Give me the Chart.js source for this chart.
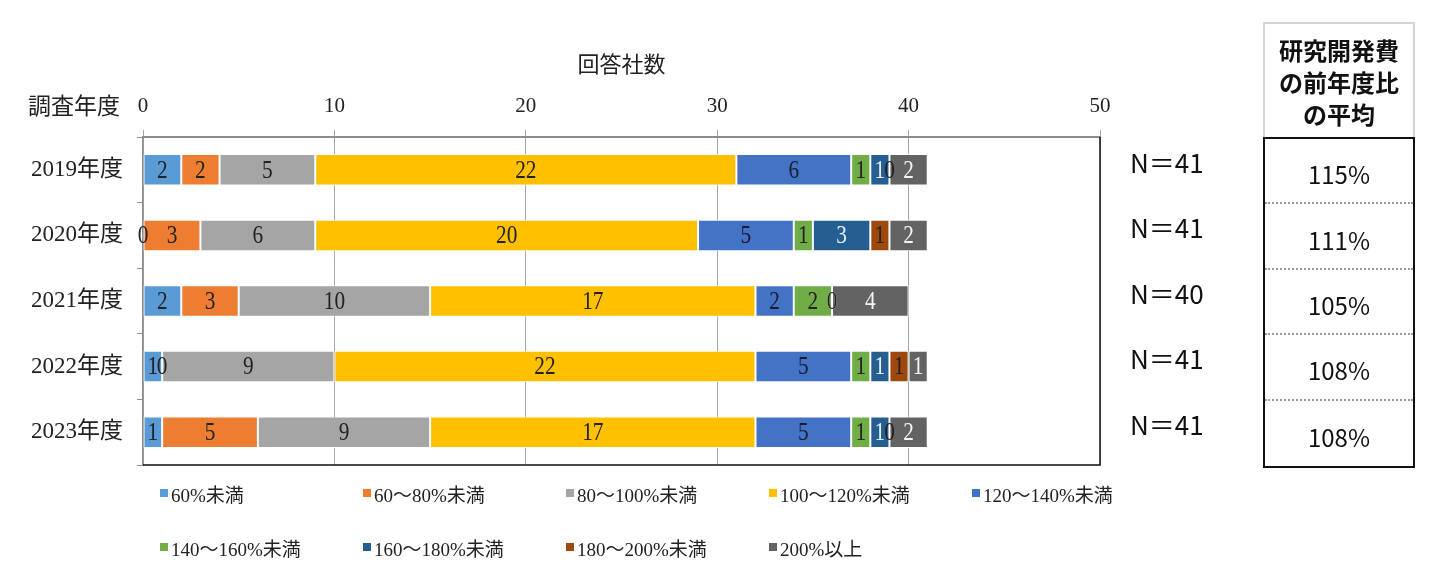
<!DOCTYPE html>
<html lang="ja">
<head>
<meta charset="utf-8">
<script src="https://cdn.jsdelivr.net/npm/chart.js@4.4.1/dist/chart.umd.min.js"></script>
<style>
  body { margin: 0; background: #fff; }
  #wrap { position: relative; width: 1449px; height: 577px; overflow: hidden; }
  #chart { position: absolute; left: 0; top: 0; }
  .serif { font-family: "Liberation Serif", "Noto Sans CJK JP", serif; color: #222; }
  #yTitle { position: absolute; left: 28px; top: 92px; font-size: 23px; line-height: 30px; }
  #legend { position: absolute; left: 160px; top: 478px; display: grid;
            grid-template-columns: repeat(5, 203px); grid-auto-rows: 54px; }
  #legend .item { display: flex; align-items: center; height: 30px; font-size: 19px; white-space: nowrap; }
  #legend .box { width: 8px; height: 8px; margin-right: 3px; flex: none; }
  #avgTable { position: absolute; left: 1263px; top: 22px; width: 152px;
              font-family: "Liberation Sans Narrow", "Noto Sans CJK JP", sans-serif; color: #111; }
  #avgHead { height: 115px; border: 2px solid #d4d4d4; border-bottom: none; box-sizing: border-box;
             display: flex; align-items: center; justify-content: center; text-align: center;
             font-family: "Noto Sans CJK JP", sans-serif; font-weight: bold; font-size: 24px; line-height: 32px; padding-top: 2px; }
  #avgBody { border: 2px solid #111; box-sizing: border-box; height: 331px; }
  #avgBody div { height: 65.4px; box-sizing: border-box; border-bottom: 2px dotted #999;
                 display: flex; align-items: center; justify-content: center; font-size: 24px; padding-top: 6px; }
  #avgBody div:last-child { border-bottom: none; }
</style>
</head>
<body>
<div id="wrap">
  <canvas id="chart" width="1449" height="577"></canvas>
  <div id="yTitle" class="serif">調査年度</div>
  <div id="legend" class="serif"></div>
  <div id="avgTable">
    <div id="avgHead">研究開発費<br>の前年度比<br>の平均</div>
    <div id="avgBody"></div>
  </div>
</div>
<script>
// 調査年度
const years = ['2019年度', '2020年度', '2021年度', '2022年度', '2023年度'];

// 回答社数（区分ごと）
const lt60 = [2, 0, 2, 1, 1];
const r60to80 = [2, 3, 3, 0, 5];
const r80to100 = [5, 6, 10, 9, 9];
const r100to120 = [22, 20, 17, 22, 17];
const r120to140 = [6, 5, 2, 5, 5];
const r140to160 = [1, 1, 2, 1, 1];
const r160to180 = [1, 3, 0, 1, 1];
const r180to200 = [0, 1, 0, 1, 0];
const ge200 = [2, 2, 4, 1, 2];

const nCounts = [41, 41, 40, 41, 41];
const avgRatio = ['115%', '111%', '105%', '108%', '108%'];
const xTicks = [0, 10, 20, 30, 40, 50];

const series = [
    { label: '60%未満', data: lt60, color: '#5B9BD5', text: '#222' },
    { label: '60～80%未満', data: r60to80, color: '#ED7D31', text: '#222' },
    { label: '80～100%未満', data: r80to100, color: '#A5A5A5', text: '#222' },
    { label: '100～120%未満', data: r100to120, color: '#FFC000', text: '#222' },
    { label: '120～140%未満', data: r120to140, color: '#4472C4', text: '#1a1a30' },
    { label: '140～160%未満', data: r140to160, color: '#70AD47', text: '#222' },
    { label: '160～180%未満', data: r160to180, color: '#255E91', text: '#e6eef8' },
    { label: '180～200%未満', data: r180to200, color: '#9E480E', text: '#222' },
    { label: '200%以上', data: ge200, color: '#636363', text: '#f4f4f4' }
];

const SERIF = '"Liberation Serif", "Noto Sans CJK JP", serif';

// 各区分の数値ラベル＋N表示
const segLabels = {
    id: 'segLabels',
    afterDatasetsDraw(chart) {
        const ctx = chart.ctx;
        ctx.save();
        ctx.font = '26px ' + SERIF;
        ctx.textAlign = 'center';
        ctx.textBaseline = 'middle';
        const sx = 0.82;
        chart.data.datasets.forEach((ds, i) => {
            chart.getDatasetMeta(i).data.forEach((bar, j) => {
                ctx.fillStyle = ds.labelColor;
                ctx.save();
                ctx.translate((bar.x + bar.base) / 2, bar.y + 1);
                ctx.scale(sx, 1);
                ctx.fillText(String(ds.data[j]), 0, 0);
                ctx.restore();
            });
        });

        // 枠線（右・下）
        const a = chart.chartArea;
        ctx.strokeStyle = '#111';
        ctx.lineWidth = 1.5;
        ctx.beginPath();
        ctx.moveTo(a.right, a.top);
        ctx.lineTo(a.right, a.bottom);
        ctx.lineTo(a.left, a.bottom);
        ctx.stroke();

        // N=
        const yScale = chart.scales.y;
        ctx.font = '26px "Liberation Sans Narrow", "Noto Sans CJK JP", sans-serif';
        ctx.textAlign = 'left';
        ctx.fillStyle = '#111';
        nCounts.forEach((n, j) => {
            ctx.fillText('N＝' + n, a.right + 30, yScale.getPixelForValue(j) - 7);
        });
        ctx.restore();
    }
};

const chart = new Chart(document.getElementById('chart'), {
    type: 'bar',
    data: {
        labels: years,
        datasets: series.map(s => ({
            label: s.label,
            data: s.data,
            backgroundColor: s.color,
            borderColor: '#ffffff',
            borderWidth: 1,
            borderSkipped: false,
            labelColor: s.text,
            barPercentage: 0.48,
            categoryPercentage: 1
        }))
    },
    options: {
        indexAxis: 'y',
        responsive: false,
        animation: false,
        layout: { padding: { left: 0, top: 0, right: 349, bottom: 112 } },
        plugins: {
            legend: { display: false },
            tooltip: { enabled: false }
        },
        scales: {
            x: {
                position: 'top',
                stacked: true,
                min: 0,
                max: 50,
                afterBuildTicks: scale => { scale.ticks = xTicks.map(v => ({ value: v })); },
                afterFit: scale => { scale.height = 137; },
                ticks: { color: '#222', font: { family: SERIF, size: 21 }, padding: 11 },
                grid: { color: '#a6a6a6', lineWidth: 1, tickLength: 7 },
                border: { color: '#8c8c8c', width: 2 },
                title: {
                    display: true,
                    text: '回答社数',
                    color: '#222',
                    font: { family: '"Noto Sans CJK JP", sans-serif', size: 22 },
                    padding: { top: 50, bottom: 0 }
                }
            },
            y: {
                stacked: true,
                afterFit: scale => { scale.width = 143; },
                ticks: { color: '#222', font: { family: SERIF, size: 23 }, padding: 14 },
                grid: { display: true, drawOnChartArea: false, offset: true, tickLength: 6, color: '#8c8c8c' },
                border: { color: '#8c8c8c', width: 1.5 }
            }
        }
    },
    plugins: [segLabels]
});

// 凡例
const legendEl = document.getElementById('legend');
series.forEach(s => {
    const item = document.createElement('div');
    item.className = 'item';
    const box = document.createElement('span');
    box.className = 'box';
    box.style.background = s.color;
    item.appendChild(box);
    item.appendChild(document.createTextNode(s.label));
    legendEl.appendChild(item);
});

// 前年度比の平均
const bodyEl = document.getElementById('avgBody');
avgRatio.forEach(v => {
    const cell = document.createElement('div');
    cell.textContent = v;
    bodyEl.appendChild(cell);
});
</script>
</body>
</html>
